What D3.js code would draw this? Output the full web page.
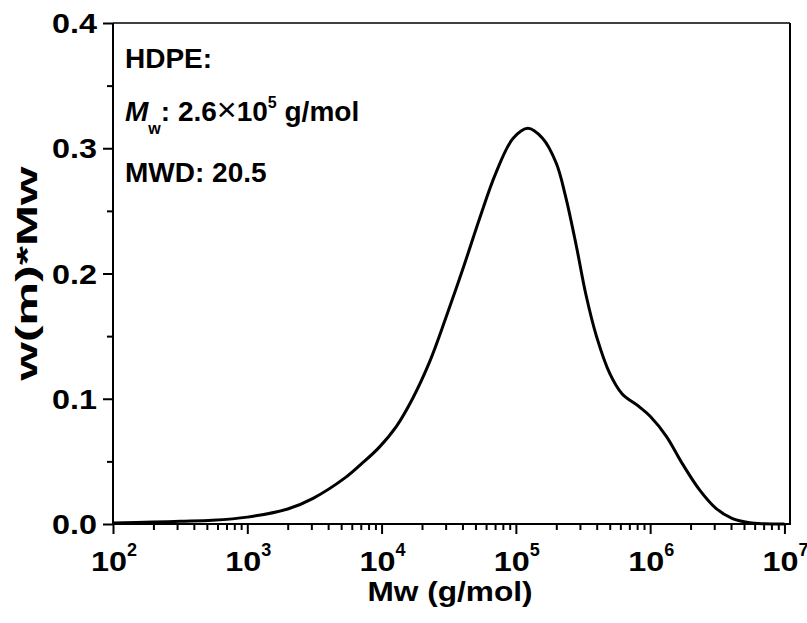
<!DOCTYPE html>
<html>
<head>
<meta charset="utf-8">
<script src="https://cdn.jsdelivr.net/npm/d3@7"></script>
<style>
html,body{margin:0;padding:0;background:#fff;}
text{font-family:"Liberation Sans",Arial,Helvetica,sans-serif;font-weight:bold;fill:#000;}
</style>
</head>
<body>
<svg id="chart" width="807" height="623"></svg>
<script>
// ---- data ----
const molWeights = [100, 200, 316, 550, 1000, 2000, 3090, 5370, 7080, 9550, 12900, 17000, 22900, 30200, 40700, 53700, 70800, 95500, 123000, 158000, 200000, 234000, 282000, 331000, 398000, 501000, 617000, 832000, 1000000, 1320000, 1740000, 2340000, 3090000, 4070000, 5500000, 7080000, 10000000];
const wValues = [0.0008, 0.0015, 0.0022, 0.003, 0.0055, 0.012, 0.0205, 0.037, 0.048, 0.061, 0.078, 0.100, 0.130, 0.165, 0.205, 0.244, 0.280, 0.308, 0.316, 0.308, 0.288, 0.262, 0.222, 0.184, 0.150, 0.120, 0.104, 0.0935, 0.086, 0.070, 0.048, 0.027, 0.0125, 0.0045, 0.001, 0.0002, 0.0];
const xDecades = [100, 1000, 10000, 100000, 1000000, 10000000];
const xExponents = ["2", "3", "4", "5", "6", "7"];
const yTicks = [0.0, 0.1, 0.2, 0.3, 0.4];
const yTickLabels = ["0.0", "0.1", "0.2", "0.3", "0.4"];
const yMinorTicks = [0.05, 0.15, 0.25, 0.35];
const xTitle = "Mw (g/mol)";
const yTitle = "w(m)*Mw";

const svg = d3.select("#chart");
const L = 113, R = 790, T = 23, B = 524;

const x = d3.scaleLog().domain([100, 11000000]).range([L, R]);
const y = d3.scaleLinear().domain([0, 0.4]).range([B, T]);

// minor x ticks
const xMinor = [];
xDecades.slice(0, -1).forEach(d => { for (let k = 2; k <= 9; k++) xMinor.push(d * k); });

// bottom axis
const gx = svg.append("g").attr("transform", `translate(0,${B})`);
gx.append("g").call(d3.axisBottom(x).tickValues(xDecades).tickSize(10).tickFormat(""))
  .call(g => g.select(".domain").remove());
gx.append("g").call(d3.axisBottom(x).tickValues(xMinor).tickSize(6).tickFormat(""))
  .call(g => g.select(".domain").remove());
gx.selectAll("line").attr("stroke", "#000").attr("stroke-width", 2);

// x tick labels
const xl = svg.append("g");
xDecades.forEach((d, i) => {
  const t = xl.append("text").attr("x", x(d) + 1).attr("y", 571).attr("text-anchor", "middle")
    .style("font-size", "28px");
  t.append("tspan").attr("textLength", 36).attr("lengthAdjust", "spacingAndGlyphs").text("10");
  t.append("tspan").attr("dy", -15).style("font-size", "18px").text(xExponents[i]);
});

// left axis
const gy = svg.append("g").attr("transform", `translate(${L},0)`);
gy.append("g").call(d3.axisLeft(y).tickValues(yTicks).tickSize(10).tickFormat(""))
  .call(g => g.select(".domain").remove());
gy.append("g").call(d3.axisLeft(y).tickValues(yMinorTicks).tickSize(6).tickFormat(""))
  .call(g => g.select(".domain").remove());
gy.selectAll("line").attr("stroke", "#000").attr("stroke-width", 2);

yTicks.forEach((d, i) => {
  svg.append("text").attr("x", 97).attr("y", y(d) + 10).attr("text-anchor", "end")
    .style("font-size", "27px").attr("textLength", 45).attr("lengthAdjust", "spacingAndGlyphs")
    .text(yTickLabels[i]);
});

// frame
svg.append("line").attr("x1", L).attr("x2", R).attr("y1", T).attr("y2", T).attr("stroke", "#000").attr("stroke-width", 1.5);
svg.append("line").attr("x1", R).attr("x2", R).attr("y1", T).attr("y2", B).attr("stroke", "#000").attr("stroke-width", 2);
svg.append("line").attr("x1", L).attr("x2", L).attr("y1", T).attr("y2", B + 1).attr("stroke", "#000").attr("stroke-width", 2);
svg.append("line").attr("x1", L - 1).attr("x2", R + 1).attr("y1", B).attr("y2", B).attr("stroke", "#000").attr("stroke-width", 2);

// curve
const data = molWeights.map((m, i) => ({ m, v: wValues[i] }));
svg.append("path").datum(data)
  .attr("fill", "none").attr("stroke", "#000").attr("stroke-width", 3)
  .attr("d", d3.line().x(d => x(d.m)).y(d => y(d.v)).curve(d3.curveCatmullRom.alpha(0.5)));

// titles
svg.append("text").attr("x", 450).attr("y", 601).attr("text-anchor", "middle")
  .style("font-size", "28px").attr("textLength", 165).attr("lengthAdjust", "spacingAndGlyphs").text(xTitle);
svg.append("text").attr("transform", `translate(37,${(T + B) / 2}) rotate(-90)`).attr("text-anchor", "middle")
  .style("font-size", "29px").attr("textLength", 214).attr("lengthAdjust", "spacingAndGlyphs").text(yTitle);

// annotations
svg.append("text").attr("x", 125).attr("y", 68).style("font-size", "28px").text("HDPE:");
const a2 = svg.append("text").attr("x", 125).attr("y", 121).style("font-size", "28px");
a2.append("tspan").style("font-style", "italic").text("M");
a2.append("tspan").attr("dy", 13).style("font-size", "16px").text("w");
a2.append("tspan").attr("dy", -13).text(": 2.6");
a2.append("tspan").style("font-size", "34px").style("font-weight", "normal").text("×");
a2.append("tspan").text("10");
a2.append("tspan").attr("dy", -13).style("font-size", "16px").text("5");
a2.append("tspan").attr("dy", 13).text(" g/mol");
svg.append("text").attr("x", 125).attr("y", 182).style("font-size", "28px").text("MWD: 20.5");
</script>
</body>
</html>
